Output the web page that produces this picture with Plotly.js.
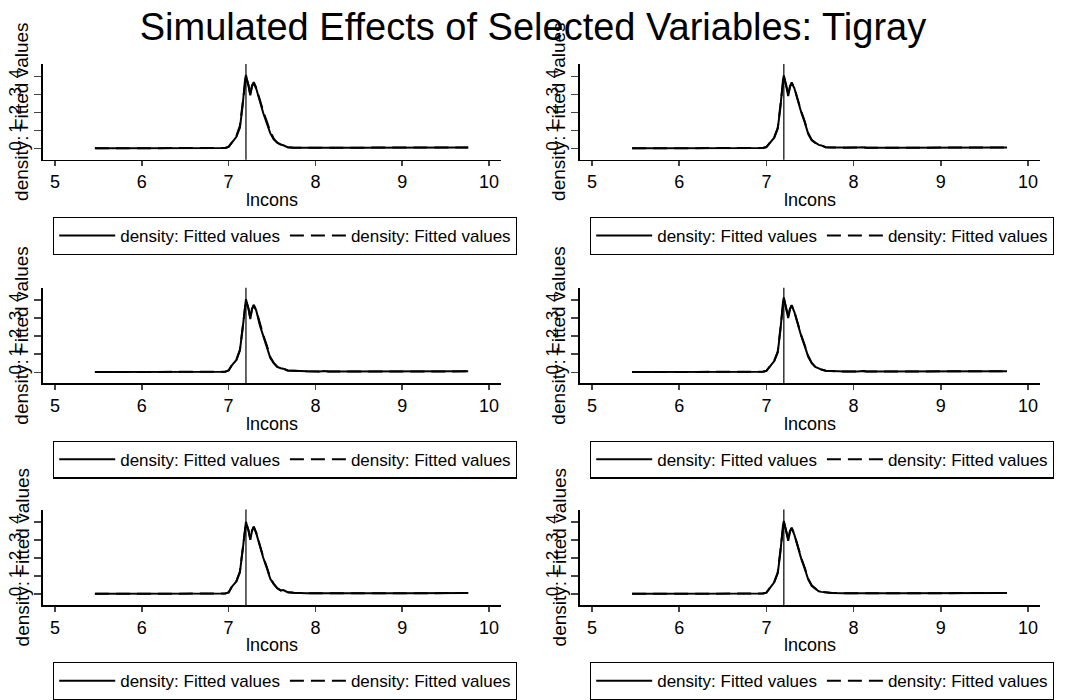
<!DOCTYPE html>
<html><head><meta charset="utf-8">
<script src="https://cdn.plot.ly/plotly-3.0.1.min.js"></script>
<style>html,body{margin:0;padding:0;background:#fff}#chart{width:1066px;height:700px}</style>
</head><body><div id="chart"></div>
<script>
// ---------- data ----------
const chartTitle = "Simulated Effects of Selected Variables: Tigray";
const xTitle = "lncons";
const yTitle = "density: Fitted values";
const seriesName = "density: Fitted values";
const xTickVals = [5, 6, 7, 8, 9, 10];
const yTickVals = [0, 1, 2, 3, 4];
const vlineX = 7.2;

const xGrid = [5.46, 6.0, 6.5, 6.96, 7.0, 7.04, 7.09, 7.13, 7.16, 7.19, 7.2, 7.23, 7.25, 7.27, 7.29, 7.32, 7.36, 7.4, 7.44, 7.48, 7.52, 7.56, 7.6, 7.63, 7.68, 7.75, 7.9, 8.05, 8.1, 8.15, 8.5, 9.0, 9.5, 9.76];

const p1Solid = [0.01,0.02,0.02,0.03, 0.09,0.35,0.65,1.15,2.3,3.85, 4.08,3.45,2.95,3.45,3.62, 3.3,2.55,1.95,1.4,0.85, 0.5,0.32,0.22,0.18,0.07, 0.04,0.04,0.05,0.07,0.04, 0.04,0.04,0.05,0.06];
const p1Dash  = [0.01,0.02,0.02,0.03, 0.09,0.37,0.7,1.25,2.45,3.8, 3.98,3.5,3.0,3.5,3.68, 3.35,2.65,2.05,1.5,0.95, 0.55,0.33,0.22,0.17,0.07, 0.04,0.04,0.05,0.07,0.04, 0.04,0.04,0.05,0.06];
const p2Solid = [0.01,0.02,0.02,0.03, 0.08,0.33,0.6,1.1,2.25,3.8, 4.05,3.4,2.9,3.4,3.62, 3.35,2.6,2.0,1.45,0.8, 0.45,0.3,0.2,0.17,0.07, 0.05,0.04,0.05,0.07,0.04, 0.04,0.04,0.05,0.06];
const p2Dash  = [0.01,0.02,0.02,0.03, 0.08,0.34,0.62,1.15,2.3,3.75, 4.0,3.45,2.95,3.45,3.66, 3.38,2.65,2.05,1.5,0.85, 0.48,0.31,0.2,0.17,0.07, 0.05,0.04,0.05,0.07,0.04, 0.04,0.04,0.05,0.06];
const p3Solid = [0.01,0.02,0.03,0.03, 0.1,0.4,0.68,1.2,2.35,3.85, 4.05,3.5,2.95,3.5,3.72, 3.4,2.6,2.0,1.45,0.8, 0.5,0.3,0.22,0.2,0.1, 0.08,0.05,0.04,0.07,0.04, 0.04,0.04,0.05,0.05];
const p3Dash  = [0.01,0.02,0.03,0.03, 0.1,0.42,0.7,1.25,2.4,3.8, 4.0,3.52,3.0,3.52,3.74, 3.42,2.65,2.05,1.5,0.85, 0.52,0.31,0.22,0.2,0.1, 0.08,0.05,0.04,0.07,0.04, 0.04,0.04,0.05,0.05];
const p4Solid = [0.01,0.02,0.02,0.03, 0.08,0.35,0.62,1.1,2.3,3.9, 4.15,3.45,3.0,3.5,3.7, 3.35,2.6,2.0,1.45,0.85, 0.5,0.3,0.22,0.15,0.08, 0.06,0.04,0.04,0.07,0.04, 0.04,0.04,0.05,0.06];
const p4Dash  = [0.01,0.02,0.02,0.03, 0.08,0.36,0.64,1.15,2.35,3.85, 4.08,3.5,3.05,3.52,3.72, 3.38,2.65,2.05,1.5,0.9, 0.52,0.31,0.22,0.15,0.08, 0.06,0.04,0.04,0.07,0.04, 0.04,0.04,0.05,0.06];
const p5Solid = [0.01,0.02,0.02,0.03, 0.09,0.42,0.7,1.2,2.35,3.8, 4.0,3.5,3.0,3.5,3.72, 3.35,2.6,2.0,1.45,0.85, 0.55,0.32,0.2,0.22,0.1, 0.07,0.05,0.04,0.06,0.04, 0.04,0.04,0.05,0.06];
const p5Dash  = [0.01,0.02,0.02,0.03, 0.09,0.43,0.72,1.25,2.4,3.75, 3.95,3.52,3.05,3.52,3.74, 3.38,2.65,2.05,1.5,0.9, 0.57,0.33,0.2,0.22,0.1, 0.07,0.05,0.04,0.06,0.04, 0.04,0.04,0.05,0.06];
const p6Solid = [0.01,0.02,0.02,0.03, 0.08,0.35,0.65,1.15,2.3,3.8, 4.05,3.4,2.95,3.45,3.65, 3.3,2.55,1.95,1.4,0.8, 0.45,0.28,0.15,0.12,0.08, 0.06,0.04,0.05,0.06,0.04, 0.04,0.04,0.05,0.06];
const p6Dash  = [0.01,0.02,0.02,0.03, 0.08,0.36,0.68,1.2,2.35,3.75, 4.0,3.45,3.0,3.5,3.68, 3.33,2.6,2.0,1.45,0.85, 0.48,0.29,0.15,0.12,0.08, 0.06,0.04,0.05,0.06,0.04, 0.04,0.04,0.05,0.06];

const panelSolid = [p1Solid, p2Solid, p3Solid, p4Solid, p5Solid, p6Solid];
const panelDash  = [p1Dash, p2Dash, p3Dash, p4Dash, p5Dash, p6Dash];

// ---------- layout geometry (px) ----------
const W = 1066, H = 700;
const FONT = "Liberation Sans, Arial, Helvetica, sans-serif";
const colX = [[43, 501], [580, 1040]];          // plot area left/right per column
const rowY = [[65, 162], [292, 389], [517, 614]]; // plot area top/bottom per row
const xRange = [4.862, 10.138];
const yRange = [-0.62, 4.68];

const data = [];
const layout = {
  width: W, height: H,
  margin: {l: 0, r: 0, t: 0, b: 0},
  paper_bgcolor: "#fff", plot_bgcolor: "#fff",
  font: {family: FONT, color: "#000", size: 17},
  title: {text: chartTitle, font: {family: FONT, size: 38, color: "#000"},
          x: 0.5, xanchor: "center", y: 1 - 27 / H, yanchor: "middle", xref: "paper", yref: "paper"},
  annotations: [], shapes: [],
  showlegend: true
};

for (let i = 0; i < 6; i++) {
  const row = Math.floor(i / 2), col = i % 2;
  const n = i === 0 ? "" : String(i + 1);
  const xa = "x" + n, ya = "y" + n;
  const lg = "legend" + n;
  const [xl, xr] = colX[col];
  const [yt, yb] = rowY[row];

  layout["xaxis" + n] = {
    domain: [xl / W, xr / W], anchor: ya, range: xRange,
    tickmode: "array", tickvals: xTickVals, ticks: "outside", ticklen: 5, tickwidth: 1.5,
    showline: true, linecolor: "#000", linewidth: 1.8, showgrid: false, zeroline: false,
    tickfont: {family: FONT, size: 18, color: "#000"},
    title: {text: xTitle, font: {family: FONT, size: 18, color: "#000"}, standoff: 2},
    fixedrange: true
  };
  layout["yaxis" + n] = {
    domain: [1 - yb / H, 1 - yt / H], anchor: xa, range: yRange,
    tickmode: "array", tickvals: yTickVals, ticks: "outside", ticklen: 7, tickwidth: 1.5,
    tickangle: -90, ticklabelstandoff: 6,
    showline: true, linecolor: "#000", linewidth: 1.8, showgrid: false, zeroline: false,
    tickfont: {family: FONT, size: 17, color: "#000"},
    fixedrange: true
  };
  layout.annotations.push({
    text: yTitle, textangle: -90, xref: "paper", yref: "paper",
    x: (xl - 21) / W, y: 1 - ((yt + yb) / 2) / H, xanchor: "center", yanchor: "middle",
    showarrow: false, font: {family: FONT, size: 19, color: "#000"}
  });
  layout.shapes.push({
    type: "line", xref: xa, yref: ya + " domain", x0: vlineX, x1: vlineX, y0: 0, y1: 1,
    line: {color: "#000", width: 1.2}
  });
  layout[lg] = {
    orientation: "h", x: (xl + 10) / W, xanchor: "left", y: 1 - (yb + 58) / H, yanchor: "top",
    bordercolor: "#000", borderwidth: 1.2, bgcolor: "#fff", itemwidth: 56,
    font: {family: FONT, size: 17, color: "#000"}
  };

  data.push({
    type: "scatter", mode: "lines", x: xGrid, y: panelSolid[i], xaxis: xa, yaxis: ya,
    name: seriesName, legend: lg, line: {color: "#000", width: 2, dash: "solid"}
  });
  data.push({
    type: "scatter", mode: "lines", x: xGrid, y: panelDash[i], xaxis: xa, yaxis: ya,
    name: seriesName, legend: lg, line: {color: "#000", width: 2, dash: "14px,7px"}
  });
}

Plotly.newPlot("chart", data, layout, {displayModeBar: false, staticPlot: true});
</script>
</body></html>
